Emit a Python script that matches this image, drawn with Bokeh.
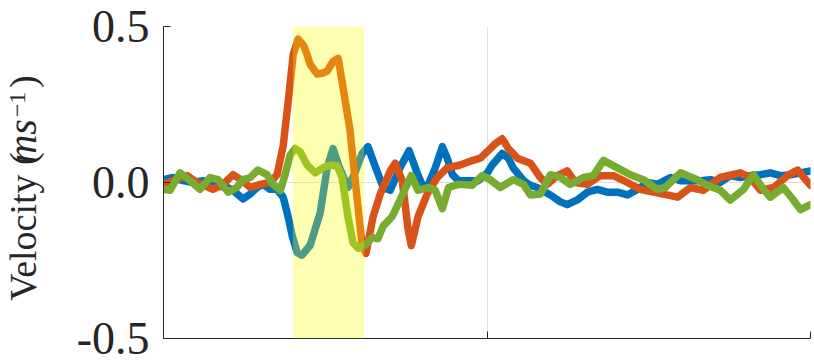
import math
from bokeh.plotting import figure
from bokeh.layouts import row
from bokeh.models import Range1d, FixedTicker, BoxAnnotation, BasicTickFormatter
from bokeh.core.properties import value
from bokeh.embed import file_html
from bokeh.resources import INLINE

# ---------------- data ----------------
blue_t = [0.000,0.029,0.060,0.091,0.122,0.153,0.197,0.215,0.246,0.268,
          0.289,0.308,0.330,0.351,0.370,0.385,0.398,0.413,0.428,0.453,
          0.484,0.506,0.524,0.542,0.570,0.592,0.614,0.632,0.654,0.679,
          0.701,0.731,0.759,0.784,0.803,0.815,0.840,0.862,0.877,0.893,
          0.912,0.933,0.973,1.001,1.016,1.047,1.066,1.081,1.113,1.134,
          1.155,1.196,1.227,1.248,1.279,1.310,1.341,1.372,1.403,1.434,
          1.465,1.496,1.527,1.567,1.598,1.629,1.660,1.691,1.721,1.752,
          1.783,1.814,1.845,1.876,1.907,1.938,1.969,2.000]
blue_v = [0.009,0.016,0.006,0.000,0.006,-0.009,-0.016,-0.025,-0.053,-0.037,
          -0.016,-0.006,-0.022,-0.022,-0.047,-0.109,-0.171,-0.224,-0.233,-0.202,
          -0.099,0.047,0.109,0.053,-0.016,0.031,0.093,0.115,0.053,-0.016,
          -0.025,0.047,0.102,0.031,-0.016,-0.016,0.047,0.115,0.078,0.025,
          0.006,0.006,0.006,0.031,0.056,0.093,0.078,0.047,0.006,-0.009,
          -0.016,-0.040,-0.062,-0.071,-0.056,-0.031,-0.022,-0.031,-0.031,-0.040,
          -0.022,0.000,-0.006,0.016,0.006,0.006,0.006,0.009,0.000,0.022,
          0.016,0.022,0.025,0.031,0.022,0.025,0.031,0.037]

orange_t = [0.000,0.029,0.073,0.104,0.153,0.184,0.215,0.243,0.268,0.299,
            0.330,0.351,0.370,0.385,0.401,0.416,0.432,0.444,0.453,0.475,
            0.493,0.506,0.524,0.540,0.555,0.576,0.599,0.614,0.626,0.648,
            0.670,0.701,0.716,0.738,0.756,0.766,0.787,0.815,0.846,0.877,
            0.917,0.957,0.979,1.001,1.025,1.047,1.066,1.094,1.134,1.165,
            1.186,1.217,1.248,1.273,1.310,1.350,1.391,1.434,1.474,1.514,
            1.545,1.589,1.629,1.669,1.721,1.783,1.814,1.845,1.886,1.929,
            1.960,2.000]
orange_v = [-0.006,0.006,0.022,0.000,-0.022,-0.006,0.025,0.006,-0.016,-0.006,
            0.000,0.025,0.118,0.255,0.410,0.460,0.441,0.410,0.379,0.348,
            0.351,0.357,0.388,0.398,0.304,0.171,-0.056,-0.202,-0.227,-0.109,
            -0.037,0.037,0.062,0.006,-0.149,-0.202,-0.109,-0.037,0.016,0.047,
            0.056,0.071,0.078,0.099,0.124,0.140,0.109,0.078,0.062,0.016,
            -0.006,0.022,0.037,0.000,-0.006,0.022,0.022,0.000,-0.022,-0.031,
            -0.037,-0.047,-0.016,-0.025,0.016,0.031,0.016,-0.025,-0.016,0.022,
            0.040,-0.009]

green_t = [0.000,0.020,0.051,0.082,0.113,0.144,0.169,0.200,0.226,0.246,
           0.268,0.292,0.320,0.339,0.361,0.376,0.391,0.407,0.422,0.444,
           0.469,0.493,0.515,0.537,0.552,0.570,0.586,0.602,0.622,0.645,
           0.663,0.679,0.707,0.731,0.766,0.787,0.818,0.840,0.862,0.881,
           0.912,0.954,0.985,1.010,1.041,1.081,1.113,1.134,1.165,1.196,
           1.227,1.257,1.298,1.329,1.360,1.403,1.443,1.483,1.527,1.551,
           1.598,1.650,1.681,1.721,1.752,1.793,1.823,1.855,1.876,1.916,
           1.947,1.969,2.000]
green_v = [-0.022,-0.025,0.031,0.006,-0.022,0.016,0.009,-0.031,-0.016,0.009,
           0.016,0.040,0.025,-0.006,-0.025,0.025,0.087,0.109,0.099,0.056,
           0.031,0.047,0.056,0.053,0.016,-0.109,-0.193,-0.211,-0.202,-0.177,
           -0.180,-0.140,-0.109,-0.056,0.022,-0.025,-0.016,-0.025,-0.084,-0.016,
           -0.006,-0.009,0.022,0.009,-0.016,0.009,-0.006,-0.040,-0.037,0.025,
           0.016,-0.006,0.016,0.022,0.071,0.047,0.025,0.009,-0.022,-0.016,
           0.031,0.009,-0.009,-0.025,-0.056,-0.022,0.025,-0.022,-0.047,-0.016,
           -0.056,-0.087,-0.071]

highlight_start = 0.40
highlight_end = 0.62

x_ticks = [0.0, 1.0, 2.0]
y_ticks = [-0.5, 0.0, 0.5]
y_tick_labels = ["-0.5", "0.0", "0.5"]

# y-axis title pieces: "Velocity (" + italic "ms" + superscript "−1" + ")"
ylabel_texts = ["Velocity (", "ms", "\u22121", ")"]

# ---------------- layout constants ----------------
TOTAL_H = 364
LABEL_W = 50
FRAME_W, FRAME_H = 647, 312
X_MIN, X_MAX = 0.0, 2.0
Y_MIN, Y_MAX = -0.5, 0.5
FRAME_LEFT, FRAME_TOP = 163, 26
TEXT_COLOR = "#262626"
SERIF = "Liberation Serif"

# ---------------- label strip (holds the composed y-axis title) ----------------
lab = figure(width=LABEL_W, height=TOTAL_H, x_range=Range1d(0, LABEL_W),
             y_range=Range1d(0, TOTAL_H), output_backend="svg", toolbar_location=None,
             x_axis_location=None, y_axis_location=None,
             min_border_left=0, min_border_right=0, min_border_top=0, min_border_bottom=0)
lab.grid.visible = False
lab.outline_line_color = None

# (style, font size, centre x, centre y measured from top) for each piece
piece_style = ["normal", "italic", "normal", "normal"]
piece_size = [38, 40, 24, 38]
piece_cx = [22, 22, 17, 22]
piece_cy = [233.5, 134, 91, 64.5]
for txt, st, sz, cx, cy in zip(ylabel_texts, piece_style, piece_size, piece_cx, piece_cy):
    lab.text(x=[cx], y=[TOTAL_H - cy], text=[txt], angle=math.pi / 2,
             text_align="center", text_baseline="middle",
             text_font=value(SERIF), text_font_style=st,
             text_font_size=value(f"{sz}px"), text_color=TEXT_COLOR)

# ---------------- main plot ----------------
p = figure(frame_width=FRAME_W, frame_height=FRAME_H,
           x_range=Range1d(X_MIN, X_MAX), y_range=Range1d(Y_MIN, Y_MAX),
           output_backend="svg", toolbar_location=None,
           min_border_left=FRAME_LEFT - LABEL_W, min_border_right=4,
           min_border_top=FRAME_TOP, min_border_bottom=TOTAL_H - FRAME_TOP - FRAME_H)
p.outline_line_color = None

# grids
p.xgrid.ticker = FixedTicker(ticks=[1.0])
p.ygrid.ticker = FixedTicker(ticks=y_ticks)
for g in (p.xgrid, p.ygrid):
    g.grid_line_color = "#DFDFDF"
    g.grid_line_width = 1

# y axis
p.yaxis.ticker = FixedTicker(ticks=y_ticks)
p.yaxis.formatter = BasicTickFormatter(precision=1)
p.yaxis.major_label_overrides = dict(zip(y_ticks, y_tick_labels))
p.yaxis.major_label_text_font = SERIF
p.yaxis.major_label_text_font_size = "46px"
p.yaxis.major_label_text_color = TEXT_COLOR
p.yaxis.major_label_standoff = 14
p.yaxis.major_tick_in = 7
p.yaxis.major_tick_out = 0
p.yaxis.minor_tick_line_color = None
p.yaxis.axis_line_color = TEXT_COLOR
p.yaxis.major_tick_line_color = TEXT_COLOR

# x axis (ticks only, no labels)
p.xaxis.ticker = FixedTicker(ticks=x_ticks)
p.xaxis.major_label_overrides = {t: "" for t in x_ticks}
p.xaxis.major_label_text_font_size = "1px"
p.xaxis.major_label_standoff = 0
p.xaxis.major_tick_in = 7
p.xaxis.major_tick_out = 0
p.xaxis.minor_tick_line_color = None
p.xaxis.axis_line_color = TEXT_COLOR
p.xaxis.major_tick_line_color = TEXT_COLOR

# series
series = [(blue_t, blue_v, "#0072BD"),
          (orange_t, orange_v, "#D95319"),
          (green_t, green_v, "#77AC30")]
for t, v, c in series:
    p.line(t, v, line_color=c, line_width=7.5, line_join="round", line_cap="round")

# highlighted interval (drawn on top, translucent)
p.add_layout(BoxAnnotation(left=highlight_start, right=highlight_end,
                           fill_color="#FFFF00", fill_alpha=0.3, line_color=None))

layout = row(lab, p, spacing=0)
open("out.html", "w").write(file_html(layout, INLINE))
